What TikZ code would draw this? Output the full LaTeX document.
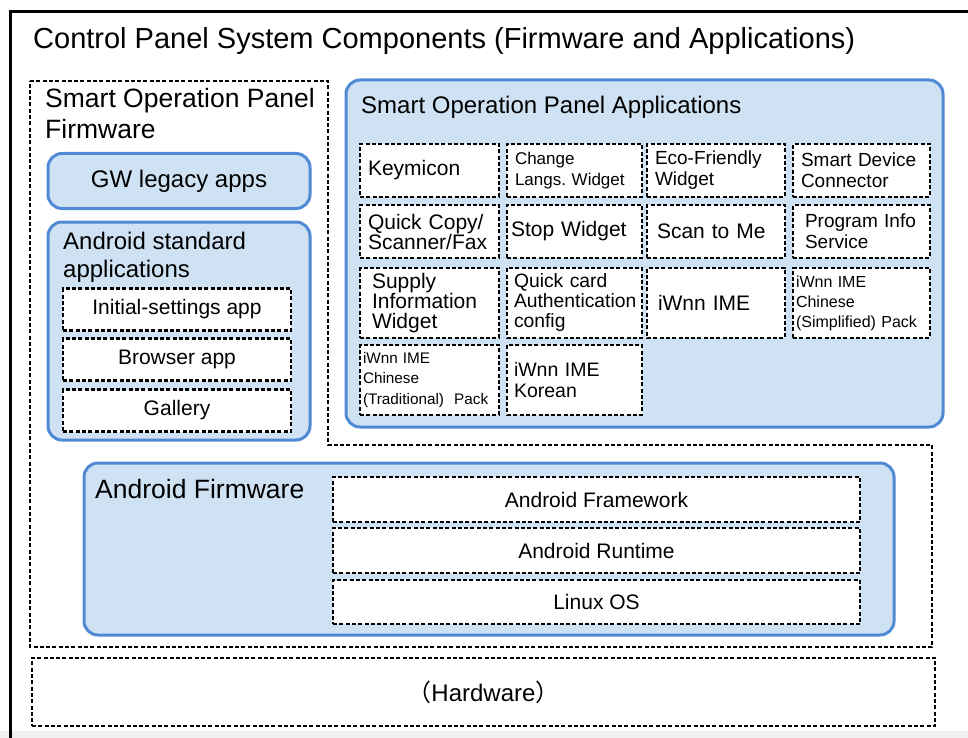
\documentclass[tikz,border=0pt]{standalone}
\usepackage{fontspec}
\setmainfont{Liberation Sans}
\newfontfamily\cjkfont{Noto Sans CJK JP}
\definecolor{panelblue}{RGB}{80,138,212}
\definecolor{panelfill}{RGB}{207,226,243}
\newcommand{\fs}[2]{\fontsize{#1}{#2}\selectfont}
\frenchspacing

\begin{document}
\begin{tikzpicture}[x=1pt, y=-1pt,
  bluebox/.style={draw=panelblue, line width=3pt, fill=panelfill, rounded corners=14pt},
  dashbox/.style={draw=black, line width=2.5pt, dash pattern=on 4pt off 2.3pt, fill=white},
  appbox/.style={dashbox, align=left, inner xsep=8pt, inner ysep=0pt},
  boxtitle/.style={anchor=base west, align=left, inner sep=0pt}]
  \useasboundingbox (0,0) rectangle (968,738);
  \clip (0,0) rectangle (968,738);

  % Outer frame
  \fill[gray!12] (0,731) rectangle (968,738);
  \draw[line width=3pt] (10,740) -- (10,12) -- (980,12);
  \node[boxtitle, font=\fs{29}{34}] (title) at (33,49) {Control Panel System Components (Firmware and Applications)};

  % Smart Operation Panel Firmware (L-shaped region)
  \draw[dashbox, fill=none] (30,81) -- (328,81) -- (328,445) -- (932,445) -- (932,647) -- (30,647) -- cycle;
  \node[boxtitle, font=\fs{26.5}{31}] (sopfw) at (45,139) {Smart Operation Panel\\Firmware};

  % GW legacy apps
  \node[bluebox, minimum width=262, minimum height=55, font=\fs{24}{28}] (gw) at (179,181) {GW legacy apps};

  % Android standard applications
  \node[bluebox, minimum width=262, minimum height=218] (andstd) at (179,331) {};
  \node[boxtitle, font=\fs{24}{28}] (andstdlbl) at (63,277) {Android standard\\applications};
  \node[dashbox, minimum width=228, minimum height=42, font=\fs{21}{24}] (initapp) at (177,309.5) {Initial-settings app};
  \node[dashbox, minimum width=228, minimum height=42, font=\fs{21}{24}] (browser) at (177,359.5) {Browser app};
  \node[dashbox, minimum width=228, minimum height=42, font=\fs{21}{24}] (gallery) at (177,410.5) {Gallery};

  % Smart Operation Panel Applications
  \node[bluebox, minimum width=597, minimum height=347] (sopapps) at (644.5,253.5) {};
  \node[boxtitle, font=\fs{24}{28}] (sopappslbl) at (361,114) {Smart Operation Panel Applications};

  % row 1
  \node[appbox, minimum height=53, text width=123, font=\fs{21}{24}] (keymicon) at (429.5,170.5) {Keymicon};
  \node[appbox, minimum height=53, text width=119, font=\fs{17}{21}] (langs) at (574.5,170.5) {Change\\Langs. Widget};
  \node[appbox, minimum height=53, text width=122, font=\fs{19}{21}] (eco) at (716,170.5) {Eco-Friendly\\Widget};
  \node[appbox, minimum height=53, text width=121, font=\fs{19}{21}] (smartdev) at (861.5,170.5) {Smart Device\\Connector};
  % row 2
  \node[appbox, minimum height=53, text width=123, font=\fs{21}{20}] (quickcopy) at (429.5,231.5) {Quick Copy/\\Scanner/Fax};
  \node[appbox, minimum height=53, inner xsep=4pt, text width=127, font=\fs{21}{24}] (stopw) at (574.5,231.5) {Stop Widget};
  \node[appbox, minimum height=53, inner xsep=10pt, text width=118, font=\fs{21}{24}] (scan2me) at (716,231.5) {Scan to Me};
  \node[appbox, minimum height=53, inner xsep=12pt, text width=113, font=\fs{19}{21}] (proginfo) at (861.5,231.5) {Program Info\\Service};
  % row 3
  \node[appbox, minimum height=70, inner xsep=12pt, text width=115, font=\fs{21}{20}] (supply) at (429.5,303) {Supply\\Information\\Widget};
  \node[appbox, minimum height=70, inner xsep=7pt, text width=121, font=\fs{19.3}{20}] (quickcard) at (574.5,303) {Quick card\\Authentication\\config};
  \node[appbox, minimum height=70, inner xsep=11pt, text width=116, font=\fs{21}{24}] (iwnn) at (716,303) {iWnn IME};
  \node[appbox, minimum height=70, inner xsep=3pt, text width=131, font=\fs{16}{20}] (iwnnsc) at (861.5,303) {iWnn IME\\Chinese\\(Simplified) Pack};
  % row 4
  \node[appbox, minimum height=70, inner xsep=3pt, text width=133, font=\fs{15.3}{20.5}] (iwnntc) at (429.5,380) {iWnn IME\\Chinese\\(Traditional)\ \ Pack};
  \node[appbox, minimum height=70, inner xsep=7pt, text width=121, font=\fs{19.5}{21}] (iwnnko) at (574.5,380) {iWnn IME\\Korean};

  % Android Firmware
  \node[bluebox, minimum width=810, minimum height=172] (andfw) at (489,549) {};
  \node[boxtitle, font=\fs{26.5}{31}] (andfwlbl) at (95,498) {Android Firmware};
  \node[dashbox, minimum width=527, minimum height=45, font=\fs{21}{24}] (framework) at (596.5,499.5) {Android Framework};
  \node[dashbox, minimum width=527, minimum height=45, font=\fs{21}{24}] (runtime) at (596.5,550.5) {Android Runtime};
  \node[dashbox, minimum width=527, minimum height=44, font=\fs{21}{24}] (linux) at (596.5,602) {Linux OS};

  % Hardware
  \node[dashbox, minimum width=903, minimum height=68, font=\fs{24}{28}] (hardware) at (483.5,692) {{\cjkfont （}Hardware{\cjkfont ）}};
\end{tikzpicture}
\end{document}
